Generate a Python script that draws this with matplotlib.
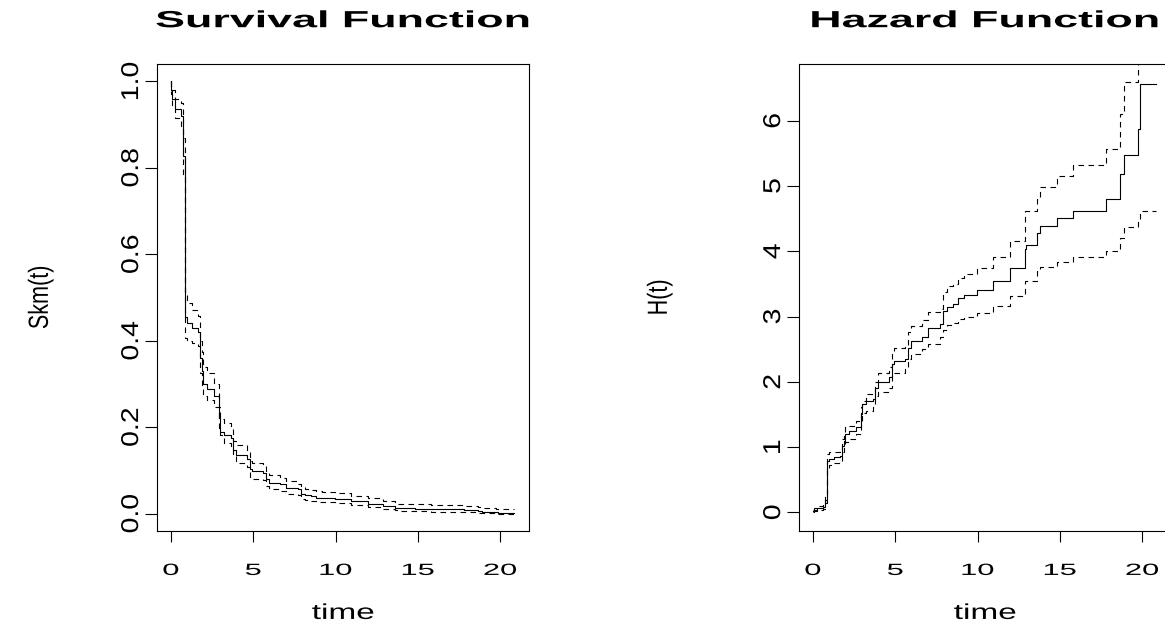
import matplotlib
matplotlib.use("Agg")
import matplotlib.pyplot as plt
from matplotlib.patheffects import AbstractPathEffect
from matplotlib.transforms import Affine2D

# ---------------- data ----------------
end_time = 20.85

surv_time = [0.00, 0.03, 0.10, 0.25, 0.63, 0.75, 0.85, 1.00, 1.30, 1.64, 1.75, 1.87, 1.95,
             2.20, 2.65, 2.90, 3.00, 3.20, 3.67, 3.77, 3.97, 4.65, 4.78, 4.92, 5.60, 5.80,
             5.94, 6.60, 6.97, 7.72, 7.88, 8.12, 8.53, 8.84, 9.15, 9.96, 10.92, 12.00, 12.90,
             12.95, 13.64, 13.80, 14.80, 15.77, 17.81, 18.63, 18.87, 19.74, 19.84]
surv = [1.000, 0.980, 0.960, 0.935, 0.920, 0.827, 0.455, 0.440, 0.430, 0.420, 0.360, 0.330,
        0.300, 0.289, 0.272, 0.221, 0.190, 0.183, 0.176, 0.148, 0.135, 0.126, 0.103, 0.098,
        0.095, 0.080, 0.072, 0.069, 0.059, 0.056, 0.046, 0.043, 0.041, 0.037, 0.036, 0.033,
        0.029, 0.0235, 0.018, 0.0167, 0.0138, 0.0124, 0.011, 0.0099, 0.0082, 0.0056, 0.0042,
        0.0028, 0.0014]
surv_hi = [1.000, 0.990, 0.980, 0.960, 0.950, 0.870, 0.507, 0.487, 0.472, 0.458, 0.400, 0.375,
           0.340, 0.326, 0.300, 0.247, 0.219, 0.210, 0.200, 0.169, 0.159, 0.148, 0.122, 0.118,
           0.110, 0.095, 0.089, 0.082, 0.076, 0.069, 0.061, 0.057, 0.055, 0.052, 0.050, 0.047,
           0.042, 0.0365, 0.029, 0.0287, 0.0247, 0.0233, 0.0215, 0.0198, 0.0181, 0.015, 0.0126,
           0.0117, 0.0099]
surv_lo = [1.000, 0.970, 0.940, 0.914, 0.896, 0.780, 0.407, 0.400, 0.395, 0.387, 0.326, 0.295,
           0.273, 0.264, 0.247, 0.198, 0.181, 0.164, 0.157, 0.135, 0.118, 0.108, 0.085, 0.080,
           0.078, 0.063, 0.057, 0.053, 0.046, 0.044, 0.034, 0.031, 0.030, 0.028, 0.026, 0.025,
           0.020, 0.0156, 0.010, 0.0098, 0.0082, 0.0068, 0.0057, 0.0048, 0.0038, 0.0025, 0.0014,
           0.0010, 0.0000]

haz_time = [0.00, 0.10, 0.25, 0.63, 0.75, 0.85, 1.00, 1.30, 1.64, 1.75, 1.87, 1.95,
            2.20, 2.65, 2.90, 3.00, 3.20, 3.67, 3.77, 3.97, 4.65, 4.78, 4.92, 5.60,
            5.80, 5.94, 6.60, 6.97, 7.72, 7.88, 8.12, 8.53, 8.84, 9.15, 9.96, 10.92,
            12.00, 12.90, 12.95, 13.64, 13.80, 14.80, 15.77, 17.81, 18.63, 18.87, 19.74, 19.84]
haz = [0.02, 0.04, 0.065, 0.08, 0.19, 0.79, 0.82, 0.845, 0.87, 1.02, 1.10, 1.20,
       1.24, 1.30, 1.51, 1.66, 1.70, 1.74, 1.91, 2.00, 2.07, 2.27, 2.32, 2.35,
       2.52, 2.63, 2.68, 2.83, 2.88, 3.08, 3.15, 3.19, 3.29, 3.33, 3.40, 3.54,
       3.75, 4.03, 4.09, 4.28, 4.39, 4.51, 4.62, 4.80, 5.18, 5.48, 5.88, 6.57]
haz_hi = [0.03, 0.06, 0.09, 0.11, 0.25, 0.90, 0.92, 0.93, 0.95, 1.12, 1.22, 1.30,
          1.33, 1.40, 1.62, 1.71, 1.81, 1.85, 2.00, 2.14, 2.23, 2.47, 2.52, 2.55,
          2.77, 2.86, 2.94, 3.07, 3.12, 3.38, 3.47, 3.50, 3.59, 3.65, 3.75, 3.91,
          4.16, 4.61, 4.62, 4.80, 4.99, 5.16, 5.33, 5.56, 6.10, 6.60, 6.95, 6.95]
haz_lo = [0.01, 0.02, 0.04, 0.05, 0.14, 0.68, 0.72, 0.75, 0.78, 0.92, 0.98, 1.08,
          1.12, 1.20, 1.40, 1.52, 1.56, 1.61, 1.78, 1.84, 1.91, 2.10, 2.14, 2.21,
          2.35, 2.42, 2.50, 2.58, 2.68, 2.80, 2.87, 2.90, 2.96, 3.00, 3.06, 3.16,
          3.31, 3.54, 3.55, 3.70, 3.76, 3.84, 3.92, 4.01, 4.20, 4.37, 4.45, 4.62]

x_ticks = [0, 5, 10, 15, 20]
x_tick_labels = ["0", "5", "10", "15", "20"]
surv_y_ticks = [0.0, 0.2, 0.4, 0.6, 0.8, 1.0]
surv_y_tick_labels = ["0.0", "0.2", "0.4", "0.6", "0.8", "1.0"]
haz_y_ticks = [0, 1, 2, 3, 4, 5, 6]
haz_y_tick_labels = ["0", "1", "2", "3", "4", "5", "6"]

titles = ["Survival Function", "Hazard Function"]
y_labels = ["Skm(t)", "H(t)"]
x_label = "time"


# --------------- wide-glyph rendering of text (text stays real text) ---------------
class Stretch(AbstractPathEffect):
    """Scale glyphs in the text's own frame (sx along, sy across the baseline) about their centre."""
    def __init__(self, sx=1.0, sy=1.0):
        super().__init__((0.0, 0.0))
        self._sx = sx
        self._sy = sy

    def draw_path(self, renderer, gc, tpath, affine, rgbFace=None):
        ext = tpath.get_extents()
        cx = 0.5 * (ext.x0 + ext.x1)
        cy = 0.5 * (ext.y0 + ext.y1)
        st = Affine2D().translate(-cx, -cy).scale(self._sx, self._sy).translate(cx, cy)
        renderer.draw_path(gc, tpath, st + affine, rgbFace)


plt.rcParams["font.family"] = ["Liberation Sans", "DejaVu Sans"]

W, H = 1165, 627
fig = plt.figure(figsize=(W / 100, H / 100), dpi=100)
fig.patch.set_facecolor("white")

box_w, box_h = 372, 467
box_bottom = 531
ax1 = fig.add_axes([157 / W, (H - box_bottom) / H, box_w / W, box_h / H])
ax2 = fig.add_axes([799 / W, (H - box_bottom) / H, box_w / W, box_h / H])

solid_kw = dict(color="black", lw=0.8, drawstyle="steps-post")
dash_kw = dict(color="black", lw=0.8, drawstyle="steps-post", linestyle=(0, (5, 4)))

# survival panel
ax1.plot(surv_time + [end_time], surv + [surv[-1]], **solid_kw)
ax1.plot(surv_time + [end_time], surv_hi + [surv_hi[-1]], **dash_kw)
ax1.plot(surv_time + [end_time], surv_lo + [surv_lo[-1]], **dash_kw)
ax1.set_xlim(-0.84, 21.75)
ax1.set_ylim(-0.04, 1.04)
ax1.set_yticks(surv_y_ticks)
ax1.set_yticklabels(surv_y_tick_labels)

# hazard panel
ax2.plot(haz_time + [end_time], haz + [haz[-1]], **solid_kw)
ax2.plot(haz_time + [end_time], haz_hi + [haz_hi[-1]], **dash_kw)
ax2.plot(haz_time + [end_time], haz_lo + [haz_lo[-1]], **dash_kw)
ax2.set_xlim(-0.84, 21.75)
ax2.set_ylim(-0.286, 6.87)
ax2.set_yticks(haz_y_ticks)
ax2.set_yticklabels(haz_y_tick_labels)

ylabel_x = [(50 - 157) / box_w, (669 - 799) / box_w]

for ax, title, ylab, ylx in zip([ax1, ax2], titles, y_labels, ylabel_x):
    ax.set_xticks(x_ticks)
    ax.set_xticklabels(x_tick_labels)
    for sp in ax.spines.values():
        sp.set_linewidth(0.8)
        sp.set_color("black")
    ax.tick_params(axis="both", direction="out", width=0.8, color="black",
                   labelsize=11.7, labelcolor="black")
    ax.tick_params(axis="x", length=8, pad=15)
    ax.tick_params(axis="y", length=9, pad=4.5)
    for lab in ax.get_xticklabels():
        lab.set_path_effects([Stretch(1.9, 1.0)])
    for lab in ax.get_yticklabels():
        lab.set_rotation(90)
        lab.set_va("center")
        lab.set_path_effects([Stretch(1.75, 1.5)])
    t = ax.set_title(title, fontsize=16.8, fontweight="bold", pad=26.5)
    t.set_path_effects([Stretch(1.92, 1.0)])
    xl = ax.set_xlabel(x_label, fontsize=15.5, labelpad=18)
    xl.set_path_effects([Stretch(1.55, 1.0)])
    yl = ax.set_ylabel(ylab, fontsize=14.8)
    ax.yaxis.set_label_coords(ylx, 0.5)
    yl.set_path_effects([Stretch(1.05, 1.35)])

fig.savefig("out.png", dpi=100, facecolor="white")
